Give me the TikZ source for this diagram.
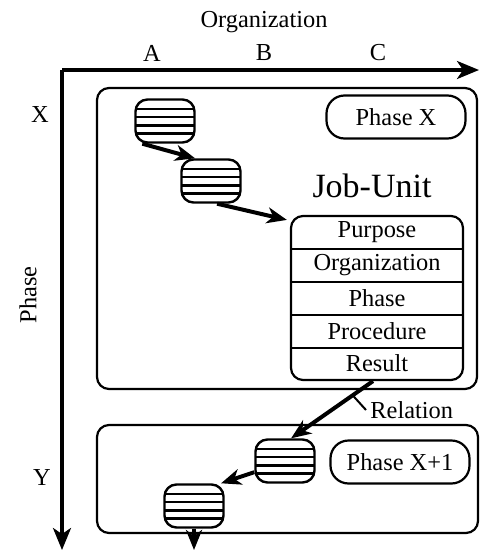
\documentclass[tikz,border=0pt]{standalone}
\usepackage{fontspec}
\setmainfont{Liberation Serif}
\usetikzlibrary{arrows.meta,calc}
\begin{document}
\begin{tikzpicture}[x=0.5pt,y=-0.5pt,
	every node/.style={font=\fontsize{12.2}{14}\selectfont},
	axis/.style={line width=1.6pt,-{Stealth[length=11pt,width=9pt,inset=3pt]}},
	flow/.style={line width=2pt,-{Stealth[length=10pt,width=8pt,inset=3pt]}},
	phasebox/.style={draw,line width=1.1pt,rounded corners=6pt},
	phasetag/.style={draw,line width=1.1pt,rounded corners=9pt,minimum width=69.5pt,minimum height=21.5pt},
	attr/.style={inner sep=0pt,minimum width=86pt,minimum height=16.4pt},
	jobcap/.style={draw,fill=white,line width=1.2pt,rounded corners=6pt,minimum width=29.5pt,minimum height=21.5pt,inner sep=0pt,
		path picture={\foreach \f in {0.22,0.41,0.6,0.79}
			\draw[line width=1.2pt] ($(path picture bounding box.north west)!\f!(path picture bounding box.south west)$)
				-- ($(path picture bounding box.north east)!\f!(path picture bounding box.south east)$);}}]
	\useasboundingbox (0,0) rectangle (480,552);
	% axes
	\node (orgaxis) at (264,22) {Organization};
	\node (colA) at (152,53) {A};
	\node (colB) at (264,53) {B};
	\node (colC) at (378,53) {C};
	\node (rowX) at (40,115) {X};
	\node (rowY) at (42,478) {Y};
	\node[rotate=90] (phaseaxis) at (28,295) {Phase};
	\coordinate (origin) at (62,70);
	\coordinate (orgend) at (479,70);
	\coordinate (phaseend) at (62,550);
	\draw[axis] (origin) -- (orgend);
	\draw[axis] (origin) -- (phaseend);
	% phase X
	\draw[phasebox] (97,88) rectangle (477,389);
	\node[phasetag] (tagX) at (396,117) {Phase X};
	\node[font=\fontsize{17}{20}\selectfont] (jobunit) at (372,186) {Job-Unit};
	\node[jobcap] (cap1) at (165,121) {};
	\node[jobcap] (cap2) at (211,181) {};
	\node[draw,line width=1.1pt,rounded corners=6pt,minimum width=86pt,minimum height=82pt,inner sep=0pt] (unit) at (377,298) {};
	\foreach \name/\txt [count=\i] in {purpose/Purpose,organization/Organization,phase/Phase,procedure/Procedure,result/Result}
		\node[attr] (\name) at (377,216+32.8*\i-16.4) {\txt};
	\foreach \name in {purpose,organization,phase,procedure}
		\draw[line width=0.9pt] (\name.south west) -- (\name.south east);
	\draw[flow] (cap1.-135) -- (cap2.125);
	\draw[flow] (cap2.-75) -- ($(unit.north west)+(-3,5)$);
	% phase X+1
	\draw[phasebox] (97,425) rectangle (478,533);
	\node[phasetag] (tagX1) at (400,462) {Phase X+1};
	\node[jobcap] (cap4) at (285,461) {};
	\node[jobcap] (cap3) at (194,506) {};
	\draw[flow] ($(unit.south)+(-4,0)$) -- (cap4.75);
	\node[anchor=west,inner sep=2pt] (relation) at (366,410) {Relation};
	\coordinate (relpt) at ($(unit.south)!0.27!(cap4.75)$);
	\draw[line width=1pt] (relpt) -- (relation.west);
	\draw[flow] (cap4.-160) -- (cap3.40);
	\coordinate (exit) at (194,550);
	\draw[flow] (cap3.south) -- (exit);
\end{tikzpicture}
\end{document}
